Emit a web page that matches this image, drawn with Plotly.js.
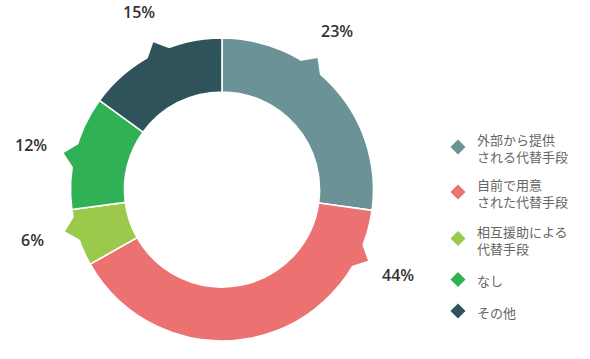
<!DOCTYPE html>
<html>
<head>
<meta charset="utf-8">
<script src="https://cdn.plot.ly/plotly-3.0.1.min.js"></script>
<style>html,body{margin:0;padding:0;background:#fff;}#chart{width:590px;height:359px;}</style>
</head>
<body>
<div id="chart"></div>
<script>
// ---- data ----
const categories = [
  "外部から提供<br>される代替手段",
  "自前で用意<br>された代替手段",
  "相互援助による<br>代替手段",
  "なし",
  "その他"
];
// slice sizes as drawn in the picture (angular share)
const sliceShares = [27.2, 39.6, 6.1, 12.1, 15.0];
// percentage labels as printed in the picture
const percentLabels = ["23%", "44%", "6%", "12%", "15%"];
const colors = ["#6B9296", "#EC7272", "#9BC94B", "#30B155", "#2F535B"];

// ---- layout config (pixels) ----
const W = 590, H = 359;
const cx = 222, cy = 189.5, R = 151.5, holeFrac = 0.644;
const labelAngles = [36, 116, 255, 283, 335];   // degrees clockwise from top
const labelRadius = 196;
const notchOut = 11, notchHalf = 5.5;
const legendX = 458, legendTextX = 475;
const legendY = [147, 192, 238.5, 279.5, 311];
const diamondHalf = 7.5;

const px = x => x / W;
const py = y => 1 - y / H;
const polar = (deg, r) => {
  const a = deg * Math.PI / 180;
  return [cx + r * Math.sin(a), cy - r * Math.cos(a)];
};
const pt = ([x, y]) => px(x) + "," + py(y);

const trace = {
  type: "pie",
  values: sliceShares,
  labels: categories,
  marker: { colors: colors, line: { color: "#ffffff", width: 1.6 } },
  hole: holeFrac,
  sort: false,
  direction: "clockwise",
  rotation: 0,
  textinfo: "none",
  hoverinfo: "skip",
  showlegend: false,
  domain: { x: [px(cx - R), px(cx + R)], y: [py(cy + R), py(cy - R)] }
};

const shapes = [];
const annotations = [];
percentLabels.forEach((t, i) => {
  const a = labelAngles[i];
  const tip = polar(a, R + notchOut);
  const b1 = polar(a - notchHalf, R - 3);
  const b2 = polar(a + notchHalf, R - 3);
  shapes.push({
    type: "path", xref: "paper", yref: "paper", layer: "above",
    path: "M" + pt(b1) + " L" + pt(tip) + " L" + pt(b2) + " Z",
    fillcolor: colors[i], line: { width: 0 }
  });
  const lp = polar(a, labelRadius);
  annotations.push({
    xref: "paper", yref: "paper", x: px(lp[0]), y: py(lp[1]),
    xanchor: "center", yanchor: "middle", showarrow: false, text: t,
    font: { family: "Open Sans", size: 16, weight: 600, color: "#333333" }
  });
});

categories.forEach((c, i) => {
  const y = legendY[i];
  shapes.push({
    type: "path", xref: "paper", yref: "paper", layer: "above",
    path: "M" + pt([legendX, y - diamondHalf]) + " L" + pt([legendX + diamondHalf, y]) +
          " L" + pt([legendX, y + diamondHalf]) + " L" + pt([legendX - diamondHalf, y]) + " Z",
    fillcolor: colors[i], line: { width: 0 }
  });
  annotations.push({
    xref: "paper", yref: "paper", x: px(legendTextX), y: py(y + 1),
    xanchor: "left", yanchor: "middle", align: "left", showarrow: false, text: c,
    font: { family: "Noto Sans CJK JP", size: 13, color: "#666666" }
  });
});

const layout = {
  width: W, height: H,
  margin: { l: 0, r: 0, t: 0, b: 0 },
  paper_bgcolor: "#ffffff",
  showlegend: false,
  shapes: shapes,
  annotations: annotations
};

Plotly.newPlot("chart", [trace], layout, { displayModeBar: false, staticPlot: true });
</script>
</body>
</html>
